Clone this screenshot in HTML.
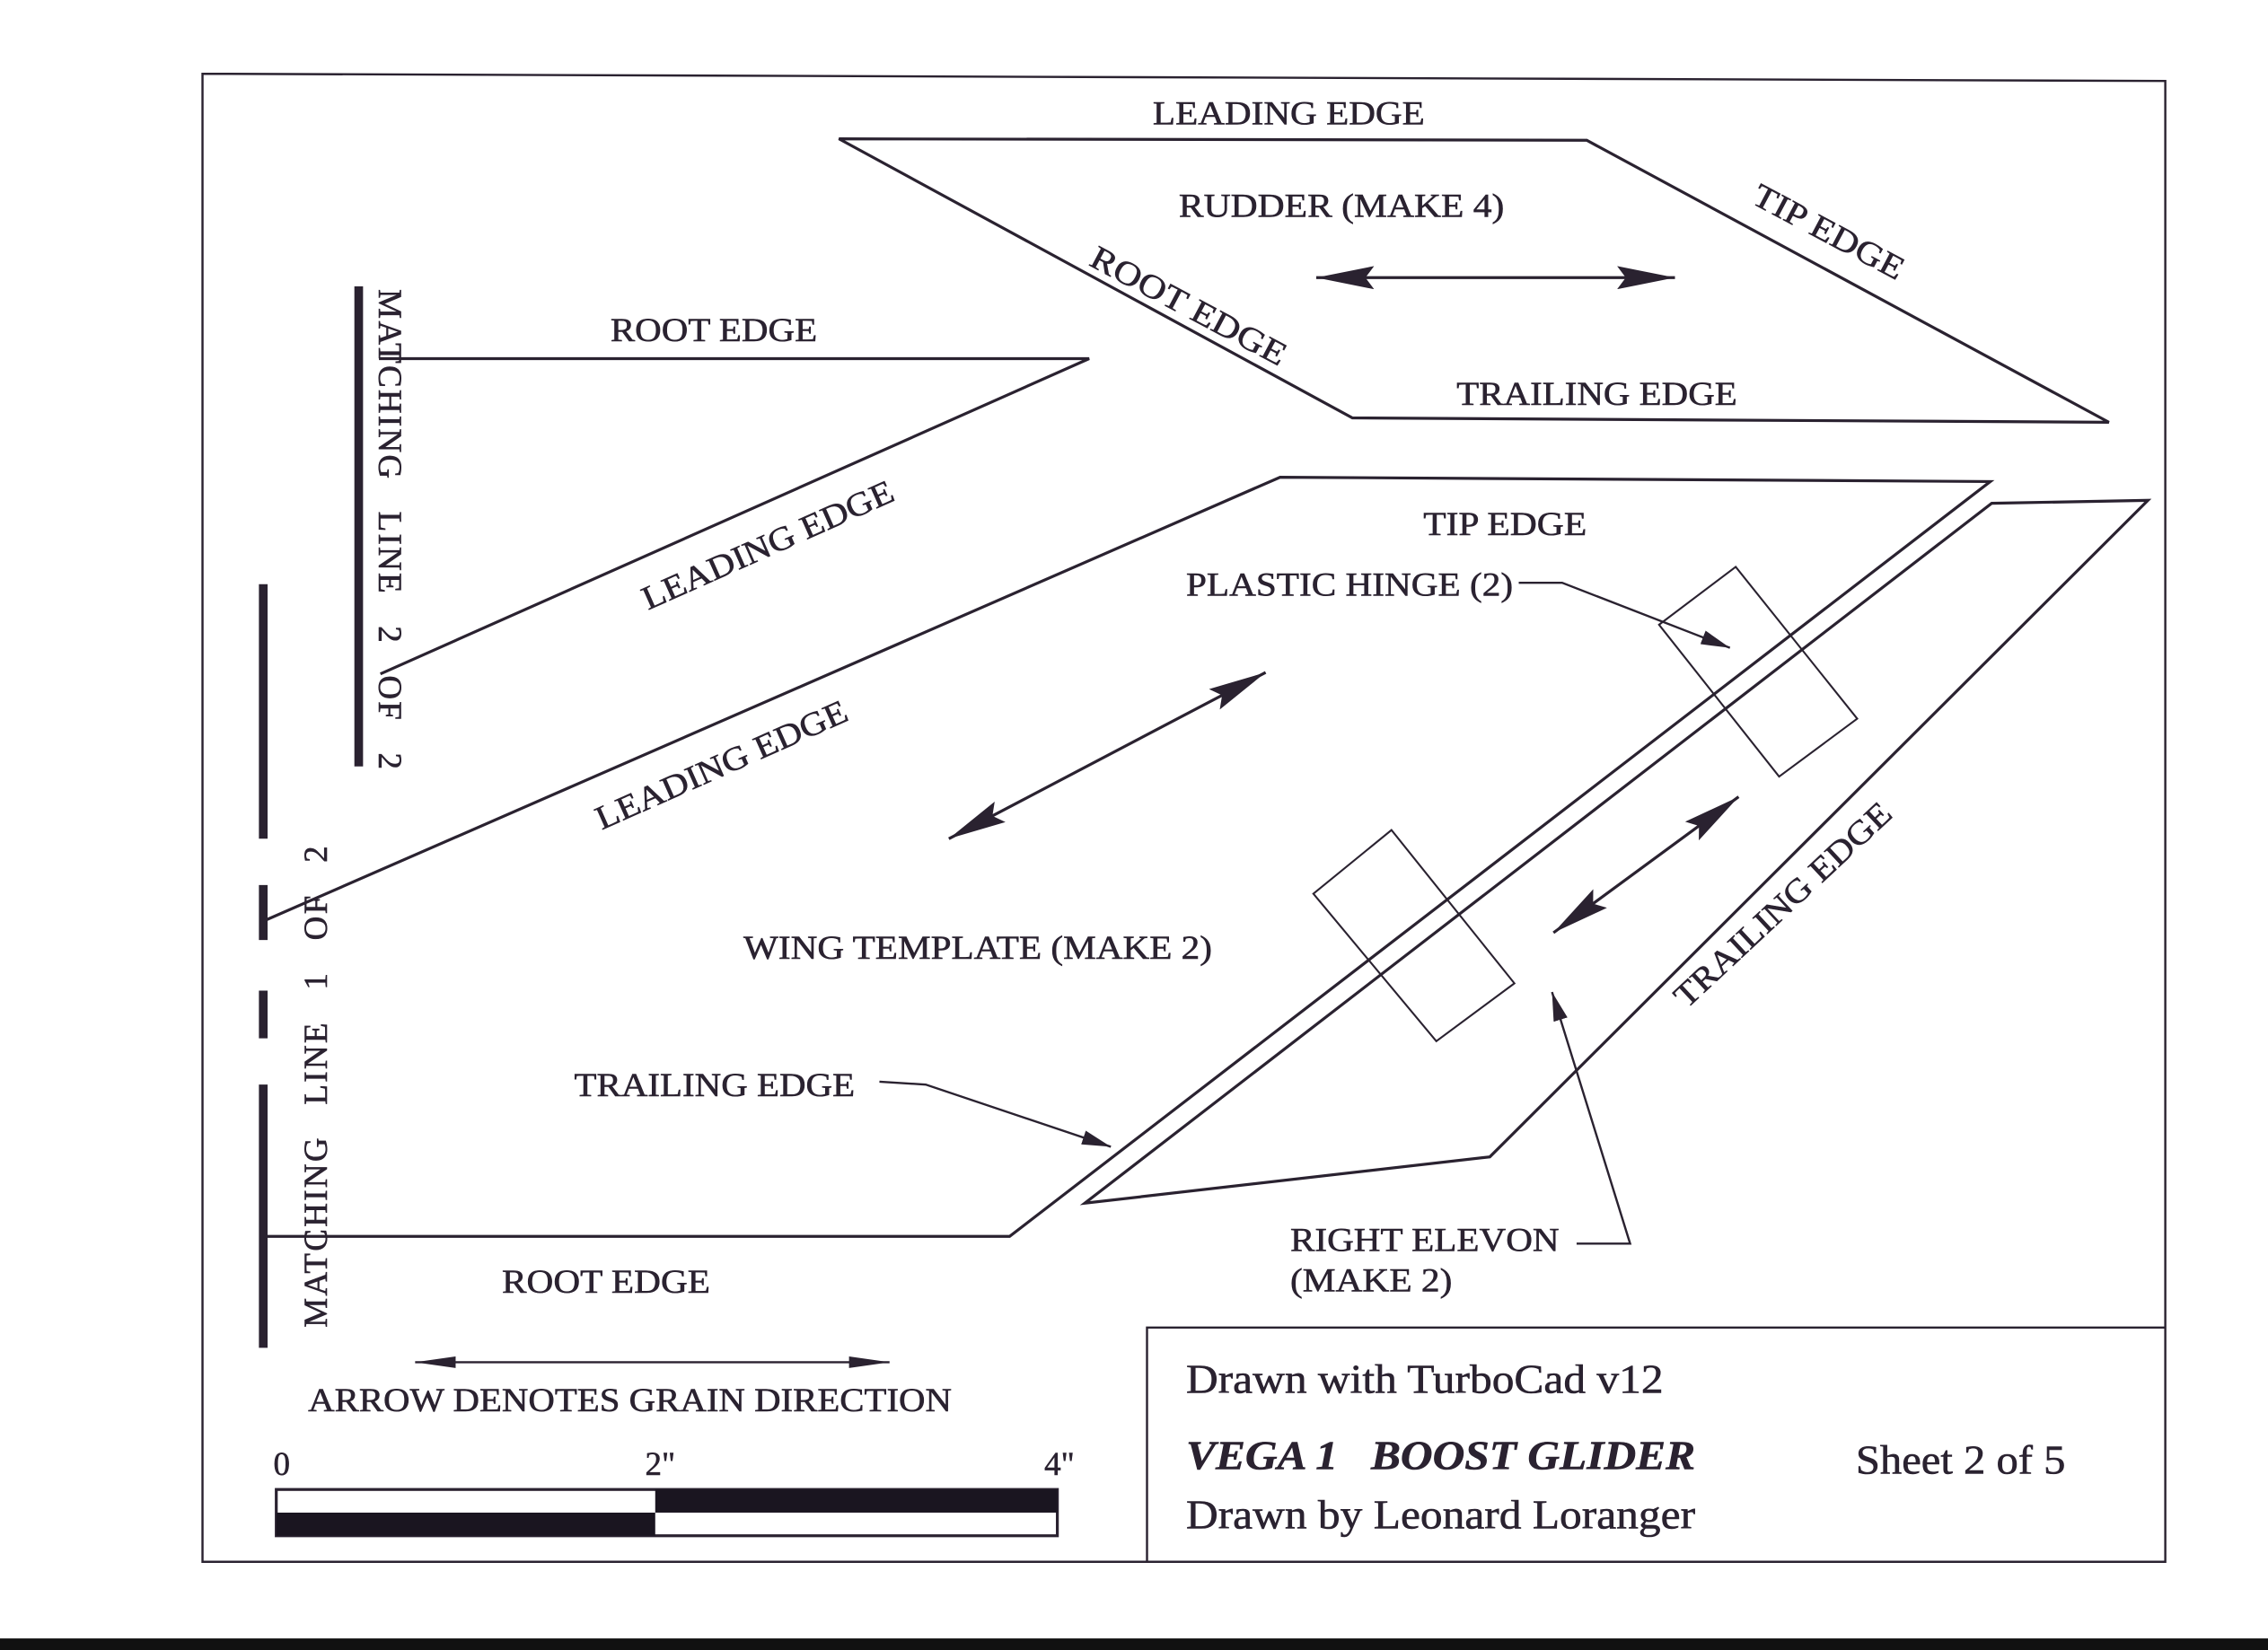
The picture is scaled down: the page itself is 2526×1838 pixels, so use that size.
<!DOCTYPE html>
<html><head><meta charset="utf-8"><style>
html,body{margin:0;padding:0;background:#fff;}
svg{display:block;}
text{font-family:"Liberation Serif",serif;fill:#2a2230;stroke:#2a2230;stroke-width:0.35;}
</style></head><body>
<svg width="2526" height="1838" viewBox="0 0 1568 1141" preserveAspectRatio="none" xmlns="http://www.w3.org/2000/svg">
<defs>
<marker id="ah" viewBox="0 0 20 10" refX="20" refY="5" markerWidth="20" markerHeight="10" markerUnits="userSpaceOnUse" orient="auto-start-reverse"><path d="M0,0 L20,5 L0,10 z" fill="#2a2230"/></marker>
<marker id="big" viewBox="0 0 40 16" refX="40" refY="8" markerWidth="40" markerHeight="16" markerUnits="userSpaceOnUse" orient="auto-start-reverse"><path d="M0,0 L40,8 L0,16 L6,8 z" fill="#2a2230"/></marker>
<marker id="sm" viewBox="0 0 28 8" refX="28" refY="4" markerWidth="28" markerHeight="8" markerUnits="userSpaceOnUse" orient="auto-start-reverse"><path d="M0,0 L28,4 L0,8 z" fill="#2a2230"/></marker>
</defs>
<rect width="1568" height="1141" fill="#fff"/>
<rect x="0" y="1133" width="1568" height="8" fill="#111"/>
<g fill="none" stroke="#2a2230" stroke-width="2">
<polygon points="140,51 1497,56 1497,1080 140,1080" stroke-width="1.5"/>
<polyline points="793,1080 793,918 1497,918" stroke-width="1.5"/>
<polygon points="580,96 1097,97 1458,292 935,289"/>
<polyline points="262,248 753,248 263,466"/>
<polyline points="182,637 885,330 1376,333 698,855 182,855"/>
<polygon points="1377,348 1485,346 1030,800 750,832"/>
<polygon points="1147,432 1200,392 1284,497 1230,537" stroke-width="1.3"/>
<polygon points="908,618 962,574 1047,680 993,720" stroke-width="1.3"/>
</g>
<g stroke="#2a2230" stroke-width="6">
<line x1="248" y1="198" x2="248" y2="530"/>
<line x1="182" y1="404" x2="182" y2="580"/>
<line x1="182" y1="612" x2="182" y2="650"/>
<line x1="182" y1="685" x2="182" y2="718"/>
<line x1="182" y1="750" x2="182" y2="932"/>
</g>
<g stroke="#2a2230" stroke-width="2" fill="none">
<line x1="910" y1="192" x2="1158" y2="192" marker-start="url(#big)" marker-end="url(#big)"/>
<line x1="656" y1="580" x2="875" y2="465" marker-start="url(#big)" marker-end="url(#big)"/>
<line x1="1074" y1="645" x2="1202" y2="551" marker-start="url(#big)" marker-end="url(#big)"/>
<line x1="287" y1="942" x2="615" y2="942" stroke-width="1.5" marker-start="url(#sm)" marker-end="url(#sm)"/>
<polyline points="1050,403 1080,403 1196,448" stroke-width="1.5" marker-end="url(#ah)"/>
<polyline points="608,748 640,750 768,793" stroke-width="1.5" marker-end="url(#ah)"/>
<polyline points="1090,860 1127,860 1073,686" stroke-width="1.5" marker-end="url(#ah)"/>
</g>
<rect x="191" y="1030" width="540" height="32" fill="#fff" stroke="#2a2230" stroke-width="2"/>
<rect x="453" y="1030" width="278" height="16" fill="#1a1520"/>
<rect x="191" y="1046" width="262" height="16" fill="#1a1520"/>
<g font-size="23">
<text x="797" y="86" textLength="188" lengthAdjust="spacingAndGlyphs">LEADING EDGE</text>
<text x="815" y="150" textLength="225" lengthAdjust="spacingAndGlyphs">RUDDER (MAKE 4)</text>
<text x="1007" y="280" textLength="194" lengthAdjust="spacingAndGlyphs">TRAILING EDGE</text>
<text x="422" y="236" textLength="143" lengthAdjust="spacingAndGlyphs">ROOT EDGE</text>
<text x="984" y="370" textLength="113" lengthAdjust="spacingAndGlyphs">TIP EDGE</text>
<text x="820" y="412" textLength="226" lengthAdjust="spacingAndGlyphs">PLASTIC HINGE (2)</text>
<text x="514" y="663" textLength="324" lengthAdjust="spacingAndGlyphs">WING TEMPLATE (MAKE 2)</text>
<text x="397" y="758" textLength="194" lengthAdjust="spacingAndGlyphs">TRAILING EDGE</text>
<text x="347" y="894" textLength="144" lengthAdjust="spacingAndGlyphs">ROOT EDGE</text>
<text x="892" y="865" textLength="186" lengthAdjust="spacingAndGlyphs">RIGHT ELEVON</text>
<text x="892" y="893" textLength="112" lengthAdjust="spacingAndGlyphs">(MAKE 2)</text>
<text x="213" y="976" textLength="445" lengthAdjust="spacingAndGlyphs">ARROW DENOTES GRAIN DIRECTION</text>
<text x="189" y="1020">0</text>
<text x="446" y="1020">2"</text>
<text x="722" y="1020">4"</text>
<text transform="translate(752,183) rotate(28)" textLength="150" lengthAdjust="spacingAndGlyphs">ROOT EDGE</text>
<text transform="translate(1210,140) rotate(28)" textLength="115" lengthAdjust="spacingAndGlyphs">TIP EDGE</text>
<text transform="translate(448,422) rotate(-24)" textLength="188" lengthAdjust="spacingAndGlyphs">LEADING EDGE</text>
<text transform="translate(416,574) rotate(-24)" textLength="188" lengthAdjust="spacingAndGlyphs">LEADING EDGE</text>
<text transform="translate(1166,698) rotate(-43)" textLength="196" lengthAdjust="spacingAndGlyphs">TRAILING EDGE</text>
<text transform="translate(262,200) rotate(90)" textLength="332" xml:space="preserve">MATCHING   LINE   2   OF   2</text>
<text transform="translate(226,918) rotate(-90)" textLength="333" xml:space="preserve">MATCHING   LINE   1   OF   2</text>
</g>
<g font-size="28">
<text x="820" y="963" textLength="330" lengthAdjust="spacingAndGlyphs">Drawn with TurboCad v12</text>
<text x="820" y="1016" font-weight="bold" font-style="italic" textLength="352" lengthAdjust="spacingAndGlyphs" xml:space="preserve">VEGA 1   BOOST GLIDER</text>
<text x="1283" y="1019" textLength="145" lengthAdjust="spacingAndGlyphs">Sheet 2 of 5</text>
<text x="820" y="1057" textLength="352" lengthAdjust="spacingAndGlyphs">Drawn by Leonard Loranger</text>
</g>
</svg>
</body></html>
